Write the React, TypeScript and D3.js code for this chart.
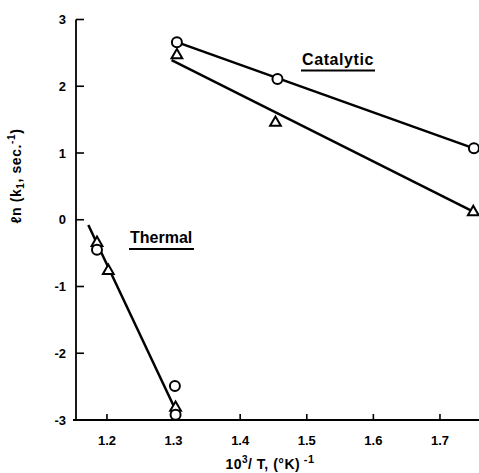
import React from 'react';
import * as d3 from 'd3';

const catalyticCircles: [number, number][] = [[1.305, 2.66], [1.456, 2.11], [1.751, 1.07]];
const catalyticTriangles: [number, number][] = [[1.305, 2.48], [1.453, 1.47], [1.75, 0.13]];
const thermalCircles: [number, number][] = [[1.185, -0.45], [1.302, -2.49], [1.303, -2.92]];
const thermalTriangles: [number, number][] = [[1.185, -0.33], [1.202, -0.75], [1.303, -2.8]];

// fitted lines drawn by hand in the original
const catalyticUpperLine: [number, number][] = [[1.305, 2.66], [1.751, 1.07]];
const catalyticLowerLine: [number, number][] = [[1.297, 2.39], [1.75, 0.12]];
const thermalLine: [number, number][] = [[1.172, -0.08], [1.303, -2.85]];

const xTicks = [1.2, 1.3, 1.4, 1.5, 1.6, 1.7];
const yTicks = [-3, -2, -1, 0, 1, 2, 3];

const W = 479;
const H = 473;

const App: React.FC = () => {
  const x = d3.scaleLinear().domain([1.1535, 1.7586]).range([76, 479]);
  const y = d3.scaleLinear().domain([-3, 3]).range([420, 19.5]);

  const line = d3
    .line<[number, number]>()
    .x((d) => x(d[0]))
    .y((d) => y(d[1]));

  const tri = d3.symbol().type(d3.symbolTriangle).size(50)();

  const font = "'Liberation Sans', Arial, sans-serif";

  const circle = (d: [number, number], i: number) => (
    <circle key={'c' + i} cx={x(d[0])} cy={y(d[1])} r={5} fill="#fff" stroke="#000" strokeWidth={2} />
  );
  const triangle = (d: [number, number], i: number) => (
    <path
      key={'t' + i}
      d={tri || ''}
      transform={`translate(${x(d[0])},${y(d[1]) + 1})`}
      fill="#fff"
      stroke="#000"
      strokeWidth={2}
    />
  );

  return (
    <div style={{ position: 'absolute', left: 0, top: 0 }}>
      <svg width={W} height={H} style={{ display: 'block', background: '#fff' }} fontFamily={font}>
        {/* axes */}
        <line x1={x.range()[0]} x2={x.range()[0]} y1={y(3)} y2={y(-3)} stroke="#000" strokeWidth={1.8} />
        <line x1={x.range()[0] - 3} x2={W} y1={y(-3)} y2={y(-3)} stroke="#000" strokeWidth={1.8} />

        {yTicks.map((t) => (
          <g key={'yt' + t}>
            <line x1={x.range()[0]} x2={x.range()[0] + 8} y1={y(t)} y2={y(t)} stroke="#000" strokeWidth={1.6} />
            <text x={66} y={y(t)} dy="0.36em" textAnchor="end" fontSize={13} fontWeight="bold">
              {t < 0 ? '-' + Math.abs(t) : t}
            </text>
          </g>
        ))}

        {xTicks.map((t) => (
          <g key={'xt' + t}>
            <line x1={x(t)} x2={x(t)} y1={y(-3)} y2={y(-3) - 6} stroke="#000" strokeWidth={1.6} />
            <text x={x(t)} y={y(-3) + 25} textAnchor="middle" fontSize={13} fontWeight="bold">
              {t.toFixed(1)}
            </text>
          </g>
        ))}

        {/* axis titles */}
        <text x={270} y={469} textAnchor="middle" fontSize={14} letterSpacing={0.5} fontWeight="bold">
          10<tspan dy={-6} fontSize={10}>3</tspan>
          <tspan dy={6}>/ T, (°K)</tspan>
          <tspan dy={-6} fontSize={11}> -1</tspan>
        </text>
        <text
          transform={`translate(21,${176}) rotate(-90)`}
          textAnchor="middle"
          fontSize={14}
          letterSpacing={0.6}
          fontWeight="bold"
        >
          ℓn (k<tspan dy={3} fontSize={10}>1</tspan>
          <tspan dy={-3}>, sec.</tspan>
          <tspan dy={-6} fontSize={10}>-1</tspan>
          <tspan dy={6}>)</tspan>
        </text>

        {/* fitted lines */}
        {[catalyticUpperLine, catalyticLowerLine, thermalLine].map((l, i) => (
          <path key={'l' + i} d={line(l) || ''} fill="none" stroke="#000" strokeWidth={2.5} />
        ))}

        {/* data points */}
        {catalyticCircles.map(circle)}
        {catalyticTriangles.map(triangle)}
        {thermalTriangles.map((d, i) => triangle(d, i + 10))}
        {thermalCircles.map((d, i) => circle(d, i + 10))}

        {/* series labels */}
        <text x={302} y={65} fontSize={16} fontWeight="bold" letterSpacing={0.6}>
          Catalytic
        </text>
        <line x1={301} x2={375} y1={70.5} y2={70.5} stroke="#000" strokeWidth={2} />
        <text x={130} y={243} fontSize={16} fontWeight="bold">
          Thermal
        </text>
        <line x1={129} x2={194} y1={249} y2={249} stroke="#000" strokeWidth={2} />
      </svg>
    </div>
  );
};

export default App;
